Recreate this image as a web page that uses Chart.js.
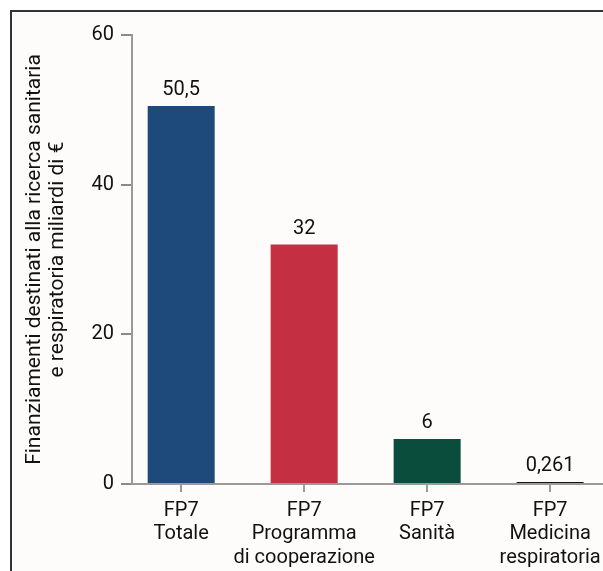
<!DOCTYPE html>
<html>
<head>
<meta charset="utf-8">
<script src="https://cdn.jsdelivr.net/npm/chart.js@4.4.1/dist/chart.umd.min.js"></script>
<style>
  body { margin: 0; background: #fff; }
  #wrap { position: relative; width: 603px; height: 571px; }
  #frame {
    position: absolute; left: 10px; top: 10px; right: 0; bottom: 0;
    border-left: 2px solid #333; border-top: 2px solid #333;
    background: #fdfcfa;
  }
  canvas { position: absolute; left: 0; top: 0; }
</style>
</head>
<body>
<div id="wrap">
  <div id="frame"></div>
  <canvas id="chart" width="603" height="571"></canvas>
</div>
<script>
// data
const categories = [
  ['FP7', 'Totale'],
  ['FP7', 'Programma', 'di cooperazione'],
  ['FP7', 'Sanità'],
  ['FP7', 'Medicina', 'respiratoria']
];
const values = [50.5, 32, 6, 0.261];
const barColors = ['#1d4a7a', '#c42f42', '#0b4d3c', '#151515'];
const yTicks = [0, 20, 40, 60];
const yTitle = ['Finanziamenti destinati alla ricerca sanitaria', 'e respiratoria miliardi di €'];

const fontFamily = 'Roboto, "DejaVu Sans", sans-serif';

//writes the value over each bar, with a comma as decimal mark
const valueLabels = {
  id: 'valueLabels',
  afterDatasetsDraw(chart) {
    const ctx = chart.ctx;
    const meta = chart.getDatasetMeta(0);
    ctx.save();
    ctx.font = '20px ' + fontFamily;
    ctx.fillStyle = '#111';
    ctx.textAlign = 'center';
    ctx.textBaseline = 'middle';
    meta.data.forEach(function (bar, i) {
      const txt = String(values[i]).replace('.', ',');
      ctx.fillText(txt, bar.x, bar.y - 16);
    });
    ctx.restore();
  }
};

const chart = new Chart(document.getElementById('chart'), {
  type: 'bar',
  data: {
    datasets: [{
      data: values.map(function (v, i) { return { x: i, y: v }; }),
      backgroundColor: barColors,
      borderWidth: 0,
      barPercentage: 1,
      categoryPercentage: 0.545
    }]
  },
  options: {
    responsive: false,
    animation: false,
    layout: { padding: { left: 0, right: 0, top: 35, bottom: 0 } },
    plugins: {
      legend: { display: false },
      tooltip: { enabled: false }
    },
    scales: {
      x: {
        type: 'linear',
        offset: false,
        bounds: 'data',
        min: -0.4,
        max: 3.43,
        afterBuildTicks: function (scale) {
          scale.ticks = categories.map(function (c, i) { return { value: i }; });
        },
        afterFit: function (scale) {
          scale.height = 87;
          scale.paddingLeft = 0;
          scale.paddingRight = 0;
        },
        border: { color: '#9a9a9a', width: 2 },
        grid: { offset: false, drawOnChartArea: false, drawTicks: true, tickLength: 8, color: '#9a9a9a', lineWidth: 2 },
        ticks: {
          autoSkip: false,
          maxRotation: 0,
          padding: 7,
          color: '#111',
          font: { family: fontFamily, size: 20, lineHeight: 1.18 },
          callback: function (v) { return categories[v]; }
        }
      },
      y: {
        min: 0,
        max: 60,
        afterBuildTicks: function (scale) {
          scale.ticks = yTicks.map(function (v) { return { value: v }; });
        },
        afterFit: function (scale) {
          scale.width = 132;
          scale.paddingTop = 0;
          scale.paddingBottom = 0;
        },
        border: { color: '#9a9a9a', width: 2 },
        grid: { drawOnChartArea: false, drawTicks: true, tickLength: 11, color: '#8a8a8a', lineWidth: 2 },
        ticks: {
          padding: 7,
          color: '#111',
          font: { family: fontFamily, size: 20 }
        },
        title: {
          display: true,
          text: yTitle,
          color: '#111',
          padding: { top: 23, bottom: 0 },
          font: { family: fontFamily, size: 21, lineHeight: 1.1 }
        }
      }
    }
  },
  plugins: [valueLabels]
});
</script>
</body>
</html>
